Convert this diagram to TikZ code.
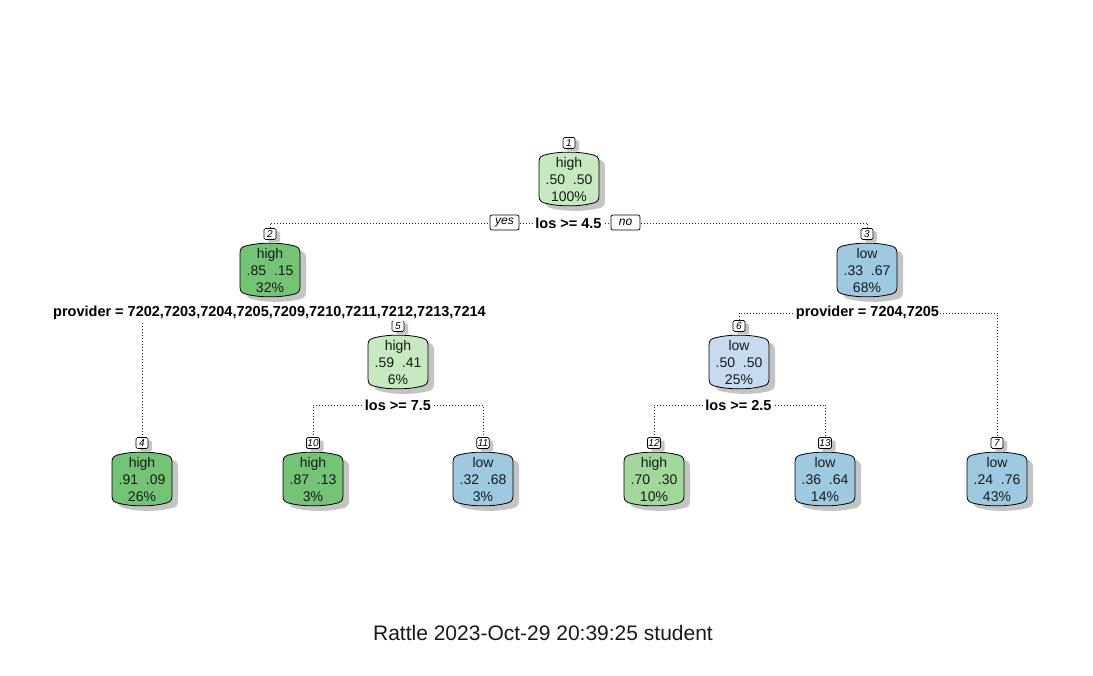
\documentclass[tikz,border=0pt]{standalone}
\usepackage{fontspec}
\setmainfont{Liberation Sans}
\usetikzlibrary{backgrounds,shadows}
\definecolor{gA}{HTML}{C7E9C0}
\definecolor{gB}{HTML}{74C476}
\definecolor{gC}{HTML}{A1D99B}
\definecolor{bA}{HTML}{9ECAE1}
\definecolor{bB}{HTML}{C6DBEF}
\definecolor{shad}{HTML}{C4C4C4}
\tikzset{
  barrelshape/.pic={
    \path[pic actions] (-30,-17) .. controls (-30,-22) and (-27.5,-23.6) .. (-22,-24.6)
      .. controls (-10,-27.6) and (10,-27.6) .. (22,-24.6)
      .. controls (27.5,-23.6) and (30,-22) .. (30,-17) -- (30,17)
      .. controls (30,22) and (27.5,23.6) .. (22,24.6)
      .. controls (10,27.6) and (-10,27.6) .. (-22,24.6)
      .. controls (-27.5,23.6) and (-30,22) .. (-30,17) -- cycle;
  },
  ntext/.style={align=center, font=\fontsize{14}{17}\selectfont, inner sep=0pt, text=black!90},
  numlab/.style={draw=black, line width=0.7pt, fill=white, rounded corners=1.5pt, minimum width=12pt,
    minimum height=11pt, inner sep=1pt, font=\fontsize{10}{10}\selectfont\itshape,
    general shadow={fill=shad, shadow xshift=4pt, shadow yshift=-3pt}},
  splitlab/.style={fill=white, inner sep=1pt, font=\fontsize{14.5}{16}\selectfont\bfseries},
  yesno/.style={draw=black, line width=0.7pt, fill=white, rounded corners=2pt, minimum width=29pt,
    minimum height=15pt, inner sep=1pt, font=\fontsize{12}{12}\selectfont\itshape},
  dotline/.style={line width=0.9pt, dash pattern=on 0.9pt off 2.1pt, black!85},
  shadowfill/.style={fill=shad, draw=none},
  boxfill/.style={draw=black, line width=0.8pt}
}
\newcommand\treenode[6]{%
  \pic[shadowfill] at ({#2+6},{#3+5}) {barrelshape};
  \pic[boxfill, fill=#4] at (#2,#3) {barrelshape};
  \node[ntext] (n#1) at (#2,#3) {#5};
  \node[numlab] (l#1) at (#2,{#3-36}) {#6};
}
\begin{document}
\begin{tikzpicture}[x=1pt,y=-1pt]
\useasboundingbox (0,0) rectangle (1093,676);

\treenode{1}{569}{179}{gA}{high\\.50\ \ .50\\100\%}{1}
\treenode{2}{270}{270}{gB}{high\\.85\ \ .15\\32\%}{2}
\treenode{3}{867}{270}{bA}{low\\.33\ \ .67\\68\%}{3}
\treenode{5}{398}{362}{gA}{high\\.59\ \ .41\\6\%}{5}
\treenode{6}{739}{362}{bB}{low\\.50\ \ .50\\25\%}{6}
\treenode{4}{142}{479}{gB}{high\\.91\ \ .09\\26\%}{4}
\treenode{10}{313}{479}{gB}{high\\.87\ \ .13\\3\%}{10}
\treenode{11}{483}{479}{bA}{low\\.32\ \ .68\\3\%}{11}
\treenode{12}{654}{479}{gC}{high\\.70\ \ .30\\10\%}{12}
\treenode{13}{825}{479}{bA}{low\\.36\ \ .64\\14\%}{13}
\treenode{7}{997}{479}{bA}{low\\.24\ \ .76\\43\%}{7}

\node[splitlab] (s1) at (568.5,223) {los >= 4.5};
\node[yesno] (yes) at (504.5,222.5) {yes};
\node[yesno] (no) at (625.5,222.5) {no};
\node[splitlab] (s2) at (269.5,313) {provider = 7202,7203,7204,7205,7209,7210,7211,7212,7213,7214};
\node[splitlab] (s3) at (867.5,313) {provider = 7204,7205};
\node[splitlab] (s5) at (398,405) {los >= 7.5};
\node[splitlab] (s6) at (738.5,405) {los >= 2.5};

\node[font=\fontsize{21}{25}\selectfont, text=black!90] (title) at (543,633) {Rattle 2023-Oct-29 20:39:25 student};

\begin{scope}[on background layer]
\draw[dotline] (s1.center) -| (l2.north);
\draw[dotline] (s1.center) -| (l3.north);
\draw[dotline] (s2.center) -| (l4.north);
\draw[dotline] (s2.center) -| (l5.north);
\draw[dotline] (s3.center) -| (l6.north);
\draw[dotline] (s3.center) -| (l7.north);
\draw[dotline] (s5.center) -| (l10.north);
\draw[dotline] (s5.center) -| (l11.north);
\draw[dotline] (s6.center) -| (l12.north);
\draw[dotline] (s6.center) -| (l13.north);
\end{scope}
\end{tikzpicture}
\end{document}
